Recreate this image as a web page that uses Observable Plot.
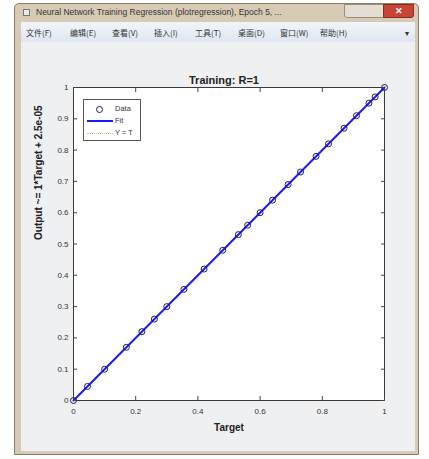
<!DOCTYPE html>
<html><head><meta charset="utf-8">
<script src="https://cdn.jsdelivr.net/npm/d3@7"></script>
<script src="https://cdn.jsdelivr.net/npm/@observablehq/plot@0.6"></script>
<style>
html,body{margin:0;padding:0;background:#fff;width:429px;height:459px;overflow:hidden;font-family:"Liberation Sans",Arial,sans-serif;}
#win{position:absolute;left:14px;top:3px;width:405px;height:452px;background:#d8cbb5;border:1px solid #8c7b66;border-radius:5px 5px 0 0;box-sizing:border-box;}
#titlebar{position:absolute;left:14px;top:3px;width:405px;height:19px;}
#titletext{position:absolute;left:22px;top:4px;font-size:8.5px;color:#333;white-space:nowrap;}
#icon{position:absolute;left:9px;top:6px;width:7px;height:7px;background:#e8e8e8;border:1px solid #777;box-sizing:border-box;}
#btns{position:absolute;left:330px;top:1px;width:40px;height:14px;background:#e3ddd3;border:1px solid #9a8c7a;box-sizing:border-box;border-radius:0 0 0 3px;}
#close{position:absolute;left:369px;top:1px;width:31px;height:14px;background:#c64536;border:1px solid #8a2a20;box-sizing:border-box;border-radius:0 0 3px 0;color:#fff;font-size:9px;text-align:center;line-height:12px;font-weight:bold;}
#menubar{position:absolute;left:21px;top:22px;width:394px;height:20px;background:linear-gradient(#f2f5fa,#dfe6f0);}
.mi{position:absolute;top:5px;font-size:8px;color:#333;white-space:nowrap;font-family:"Noto Sans CJK SC",sans-serif;}
#fig{position:absolute;left:21px;top:42px;width:394px;height:409px;background:#eff0f1;}
#plot{position:absolute;left:0;top:0;}
#legend{position:absolute;left:83px;top:99px;width:58px;height:42px;background:#fff;border:1px solid #555;box-sizing:border-box;font-size:7.5px;color:#333;}
.le{position:absolute;left:0;height:12px;width:58px;}
.lt{position:absolute;left:31px;top:0;line-height:12px;}
</style></head>
<body>
<div id="win"></div>
<div id="titlebar"><div id="icon"></div><div id="titletext">Neural Network Training Regression (plotregression), Epoch 5, ...</div><div id="btns"></div><div id="close">✕</div></div>
<div id="menubar"></div>
<div id="fig"></div>
<div id="plot"></div>
<div id="legend"></div>
<script>
// ---- data ----
const menuItems = ["文件(F)","编辑(E)","查看(V)","插入(I)","工具(T)","桌面(D)","窗口(W)","帮助(H)"];
const targets = [0, 0.045, 0.1, 0.17, 0.22, 0.26, 0.3, 0.355, 0.42, 0.48, 0.53, 0.56, 0.6, 0.64, 0.69, 0.73, 0.78, 0.82, 0.87, 0.91, 0.95, 0.97, 1.0];
const outputs = [0, 0.045, 0.1, 0.17, 0.22, 0.26, 0.3, 0.355, 0.42, 0.48, 0.53, 0.56, 0.6, 0.64, 0.69, 0.73, 0.78, 0.82, 0.87, 0.91, 0.95, 0.97, 1.0];
const fitX = [0, 1];
const fitY = [0.000025, 1.000025];
const ytX = [0, 1];
const ytY = [0, 1];
const xTicks = [0, 0.2, 0.4, 0.6, 0.8, 1];
const yTicks = [0, 0.1, 0.2, 0.3, 0.4, 0.5, 0.6, 0.7, 0.8, 0.9, 1];
const titleText = "Training: R=1";
const xLabel = "Target";
const yLabel = "Output ~= 1*Target + 2.5e-05";
const legendLabels = ["Data", "Fit", "Y = T"];

// ---- menu ----
const menuX = [5, 49, 91, 133, 174, 217, 259, 299];
const mb = document.getElementById("menubar");
menuItems.forEach((m, i) => {
  const s = document.createElement("span"); s.className = "mi"; s.textContent = m;
  s.style.left = menuX[i] + "px"; mb.appendChild(s);
});
const arr = document.createElement("span"); arr.className = "mi"; arr.textContent = "▾"; arr.style.left = "384px"; mb.appendChild(arr);

// ---- plot ----
const pts = targets.map((t, i) => ({t, o: outputs[i]}));
const fit = fitX.map((x, i) => ({x, y: fitY[i]}));
const yt = ytX.map((x, i) => ({x, y: ytY[i]}));
const fmt = d3.format("~g");
const chart = Plot.plot({
  width: 429, height: 459,
  marginLeft: 73, marginRight: 45, marginTop: 87, marginBottom: 59,
  style: {background: "transparent", fontFamily: "Liberation Sans, Arial, sans-serif", fontSize: "8px", color: "#333"},
  x: {domain: [0, 1]},
  y: {domain: [0, 1]},
  marks: [
    Plot.frame({fill: "white", stroke: "none"}),
    Plot.line(yt, {x: "x", y: "y", stroke: "#c9c77a", strokeWidth: 1, strokeDasharray: "1.5,2"}),
    Plot.line(fit, {x: "x", y: "y", stroke: "#1a1aff", strokeWidth: 2}),
    Plot.dot(pts, {x: "t", y: "o", r: 3, stroke: "#1d1d55", strokeWidth: 1, fill: "none"}),
    Plot.frame({stroke: "#3a3a3a", strokeWidth: 1}),
    Plot.axisX(xTicks, {anchor: "bottom", tickSize: -4, tickPadding: 12, tickFormat: fmt, label: null, stroke: "#444"}),
    Plot.axisX(xTicks, {anchor: "top", tickSize: -4, tickFormat: () => "", label: null, stroke: "#444"}),
    Plot.axisY(yTicks, {anchor: "left", tickSize: -4, tickPadding: 9, tickFormat: fmt, label: null, stroke: "#444"}),
    Plot.axisY(yTicks, {anchor: "right", tickSize: -4, tickFormat: () => "", label: null, stroke: "#444"}),
    Plot.text([titleText], {frameAnchor: "top", dy: -11, dx: -5, fontWeight: "bold", fontSize: 11, fill: "#222"}),
    Plot.text([xLabel], {frameAnchor: "bottom", dy: 30, fontWeight: "bold", fontSize: 10, fill: "#222"}),
    Plot.text([yLabel], {frameAnchor: "left", dx: -35, dy: -4, rotate: -90, fontWeight: "bold", fontSize: 10, fill: "#222"})
  ]
});
document.getElementById("plot").appendChild(chart);

// ---- legend ----
const lg = document.getElementById("legend");
legendLabels.forEach((lab, i) => {
  const e = document.createElement("div"); e.className = "le"; e.style.top = (3 + i * 12) + "px";
  let sym;
  if (i === 0) sym = '<span style="position:absolute;left:12px;top:3px;width:5px;height:5px;border:1px solid #1d1d55;border-radius:50%;"></span>';
  else if (i === 1) sym = '<span style="position:absolute;left:3px;top:5px;width:26px;border-top:2px solid #1a1aff;"></span>';
  else sym = '<span style="position:absolute;left:3px;top:6px;width:26px;border-top:1px dotted #c9c77a;"></span>';
  e.innerHTML = sym + '<span class="lt">' + lab + '</span>';
  lg.appendChild(e);
});
</script>
</body></html>
